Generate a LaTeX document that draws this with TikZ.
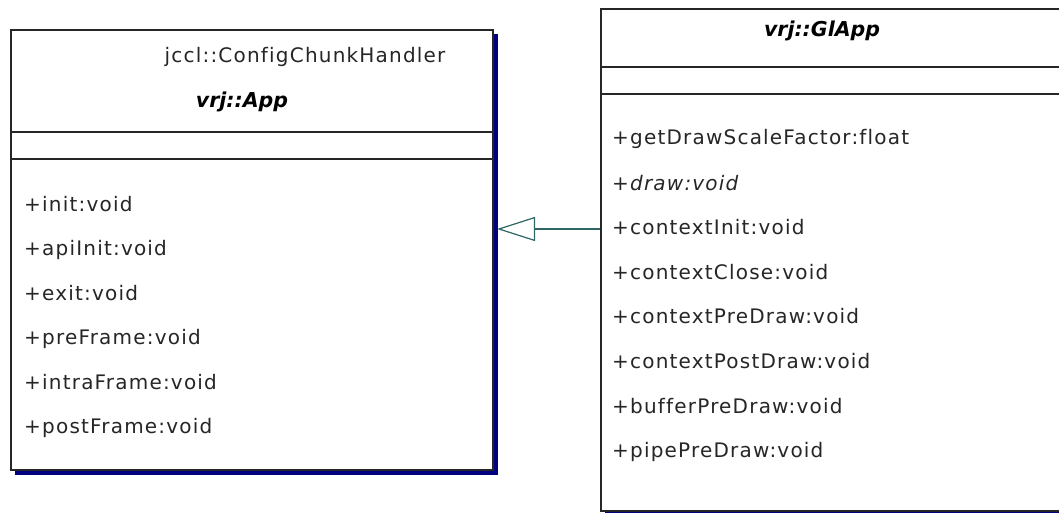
\documentclass[tikz,border=0pt]{standalone}
\usepackage{fontspec}
\setmainfont{DejaVu Sans}
\usetikzlibrary{arrows.meta}
\usetikzlibrary{positioning}
\definecolor{mnavy}{rgb}{0.0, 0.0, 0.5}
\definecolor{mteal}{rgb}{0.18, 0.40, 0.40}
\newcommand{\memberfont}{\fontsize{20}{22}\selectfont\addfontfeatures{LetterSpace=6, Ligatures=NoCommon}}
\tikzset{classbox/.style = {draw=black!85, line width=1.6pt, fill=white,
                            anchor=north west, inner sep=0pt},
         member/.style = {anchor=base west, inner sep=0pt,
                          font=\memberfont, text=black!85},
         classname/.style = {inner sep=0pt, font=\fontsize{20.5}{22}\selectfont\bfseries\itshape},
         divider/.style = {draw=black!85, line width=1.4pt}}

\begin{document}
\begin{tikzpicture}[x=1pt, y=-1pt]
    \useasboundingbox (0, 0) rectangle (1059, 513);
    \clip (0, 0) rectangle (1059, 513);

    % vrj::App
    \fill [mnavy] (15, 34) rectangle (498, 475);
    \node [classbox, minimum width=482pt, minimum height=440pt] (app) at (10, 29) {};
    \draw [divider] (app.west |- 0, 132) -- (app.east |- 0, 132);
    \draw [divider] (app.west |- 0, 159) -- (app.east |- 0, 159);
    \node [inner sep=0pt, font=\memberfont, text=black!85] (appsuper) at (305, 57) {jccl::ConfigChunkHandler};
    \node [classname] (apptitle) at (242, 102) {vrj::App};
    \foreach \m [count=\i] in {init, apiInit, exit, preFrame, intraFrame, postFrame}
        \node [member] (app-\i) at (24, 211 + 44.5*\i - 44.5) {+\m:void};

    % vrj::GlApp
    \fill [mnavy] (605, 13) rectangle (1110, 520);
    \node [classbox, minimum width=500pt, minimum height=502pt] (glapp) at (600, 8) {};
    \draw [divider] (glapp.west |- 0, 67) -- (glapp.east |- 0, 67);
    \draw [divider] (glapp.west |- 0, 94) -- (glapp.east |- 0, 94);
    \node [classname] (glapptitle) at (822, 31) {vrj::GlApp};
    \node [member] (glapp-1) at (612, 145) {+getDrawScaleFactor:float};
    \node [member, font=\memberfont\itshape] (glapp-2) at (612, 190) {+draw:void};
    \foreach \m [count=\i from 3] in {contextInit, contextClose, contextPreDraw, contextPostDraw,
                                      bufferPreDraw, pipePreDraw}
        \node [member] (glapp-\i) at (612, 145 + 44.7*\i - 44.7) {+\m:void};

    % generalization
    \coordinate (apptip) at (497, 229);
    \draw [mteal, line width=1.2pt, -{Triangle[open, length=38pt, width=24pt]}]
        (glapp.west |- apptip) -- (apptip);
\end{tikzpicture}
\end{document}
